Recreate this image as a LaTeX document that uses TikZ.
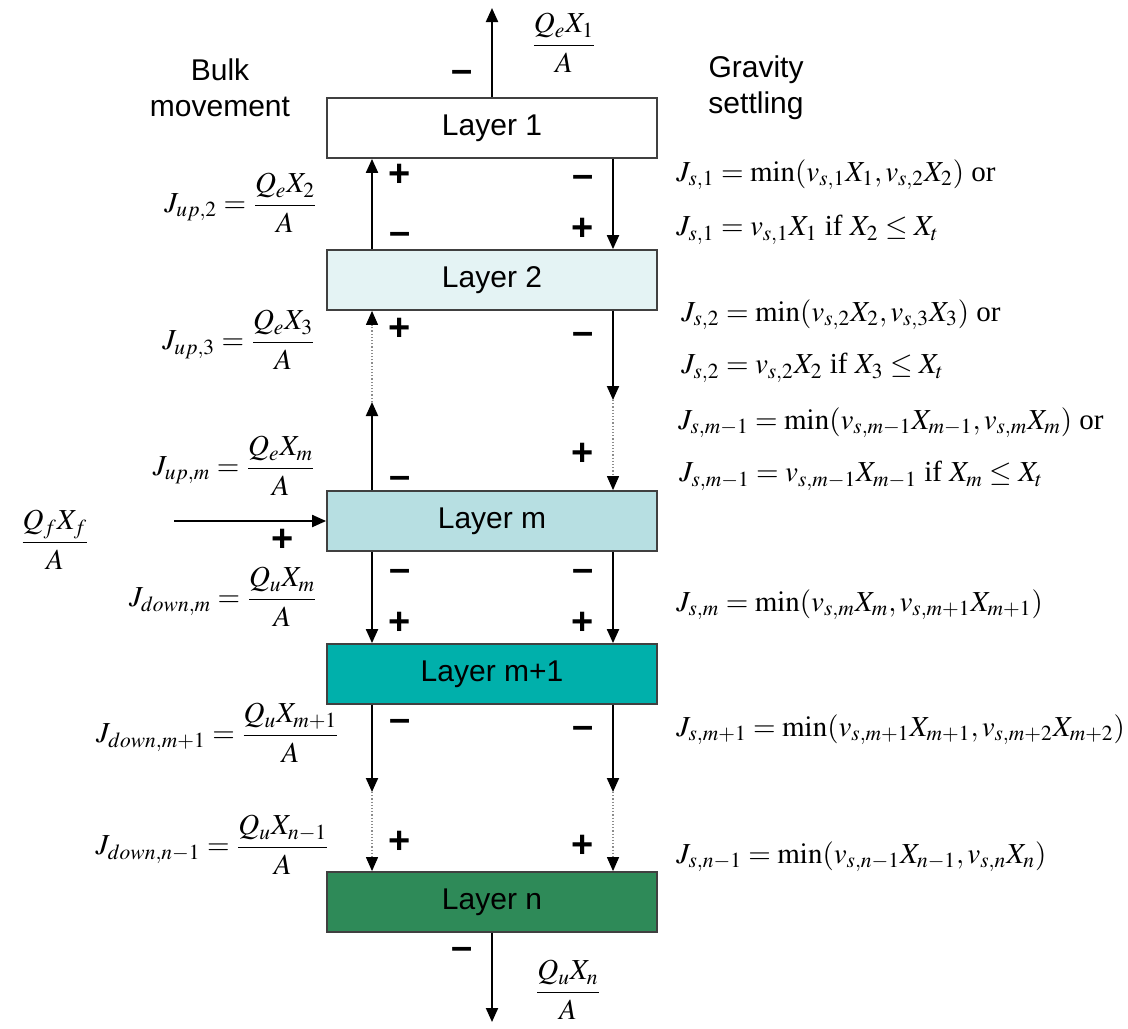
\documentclass[tikz,border=0pt]{standalone}
\usepackage{amsmath}
\usepackage{mathptmx}
\usepackage{fontspec}
\setmainfont{Liberation Serif}
\newfontfamily\arial{Liberation Sans}
\usetikzlibrary{positioning, arrows.meta}
\definecolor{layerTwo}{HTML}{E4F3F4}
\definecolor{layerM}{HTML}{B7DFE2}
\definecolor{layerMp}{HTML}{00B0AB}
\definecolor{layerN}{HTML}{2E8A58}

\begin{document}
\begin{tikzpicture}[x=0.5pt, y=-0.5pt,
    layer/.style={draw=black!75, line width=0.9pt, minimum width=165pt,
      minimum height=30pt, inner sep=0pt, font=\arial\fontsize{15}{18}\selectfont},
    flux/.style={line width=1pt, -{Triangle[length=7pt,width=6pt]}},
    gap/.style={draw=black!45, densely dotted, line width=0.6pt,
      -{Triangle[length=7pt,width=6pt,color=black]}},
    sign/.style={font=\arial\bfseries\fontsize{19}{22}\selectfont, inner sep=0pt},
    eq/.style={font=\fontsize{14.5}{17}\selectfont, inner sep=0pt},
    head/.style={font=\arial\fontsize{15}{18}\selectfont, align=center}]
  \useasboundingbox (0,0) rectangle (1128,1028);

  % layers
  \node[layer, fill=white] (l1) at (492,128) {Layer 1};
  \node[layer, fill=layerTwo] (l2) at (492,280) {Layer 2};
  \node[layer, fill=layerM] (lm) at (492,521) {Layer m};
  \node[layer, fill=layerMp] (lmp) at (492,674) {Layer m+1};
  \node[layer, fill=layerN] (ln) at (492,902) {Layer n};

  % columns and free ends
  \coordinate (cl) at (372,0);
  \coordinate (cr) at (613,0);
  \coordinate (top) at (492,8);
  \coordinate (bot) at (492,1022);
  \coordinate (upmid) at (372,402);
  \coordinate (dnmid) at (613,400);
  \coordinate (dlL) at (372,792);
  \coordinate (dlR) at (613,792);
  \coordinate (feed) at (174,521);

  \node[head] (bulk) at (220,88) {Bulk\\movement};
  \node[head] (grav) at (756,88) {Gravity\\settling};

  % fluxes
  \draw[flux] (l1) -- (top);
  \draw[flux] (ln) -- (bot);
  \draw[flux] (l2.north -| cl) -- (l1.south -| cl);
  \draw[flux] (l1.south -| cr) -- (l2.north -| cr);
  \draw[flux] (lm.north -| cl) -- (upmid);
  \draw[gap] (upmid) -- (l2.south -| cl);
  \draw[flux] (l2.south -| cr) -- (dnmid);
  \draw[gap] (dnmid) -- (lm.north -| cr);
  \draw[flux] (lm.south -| cl) -- (lmp.north -| cl);
  \draw[flux] (lm.south -| cr) -- (lmp.north -| cr);
  \draw[flux] (lmp.south -| cl) -- (dlL);
  \draw[gap] (dlL) -- (ln.north -| cl);
  \draw[flux] (lmp.south -| cr) -- (dlR);
  \draw[gap] (dlR) -- (ln.north -| cr);
  \draw[flux] (feed) -- (lm);

  % signs
  \foreach \px/\py [count=\i] in {400/175, 583/229, 400/329, 583/454, 400/623,
      583/623, 400/842, 583/846, 283/540}
    \node[sign] (plus\i) at (\px,\py) {+};
  \foreach \px/\py [count=\i] in {462/76, 583/181, 400/238, 583/338, 400/482,
      400/575, 583/575, 400/725, 583/732, 462/953}
    \node[sign] (minus\i) at (\px,\py) {\textendash};

  % outer fluxes
  \node[eq] (qtop) at (564,43) {$\displaystyle\frac{Q_eX_1}{A}$};
  \node[eq] (qbot) at (568,990) {$\displaystyle\frac{Q_uX_n}{A}$};
  \node[eq] (qfeed) at (55,540) {$\displaystyle\frac{Q_fX_f}{A}$};

  % bulk movement
  \node[eq, anchor=east] (jup2) at (318,203) {$\displaystyle J_{up,2}=\frac{Q_eX_2}{A}$};
  \node[eq, anchor=east] (jup3) at (316,340) {$\displaystyle J_{up,3}=\frac{Q_eX_3}{A}$};
  \node[eq, anchor=east] (jupm) at (316,466) {$\displaystyle J_{up,m}=\frac{Q_eX_m}{A}$};
  \node[eq, anchor=east] (jdnm) at (318,597) {$\displaystyle J_{down,m}=\frac{Q_uX_m}{A}$};
  \node[eq, anchor=east] (jdnmp) at (340,733) {$\displaystyle J_{down,m+1}=\frac{Q_uX_{m+1}}{A}$};
  \node[eq, anchor=east] (jdnn) at (330,845) {$\displaystyle J_{down,n-1}=\frac{Q_uX_{n-1}}{A}$};

  % gravity settling
  \node[eq, anchor=west] (js1a) at (676,175) {$J_{s,1}=\min(v_{s,1}X_1, v_{s,2}X_2)$ or};
  \node[eq, anchor=west] (js1b) at (676,230) {$J_{s,1}=v_{s,1}X_1$ if $X_2\le X_t$};
  \node[eq, anchor=west] (js2a) at (681,315) {$J_{s,2}=\min(v_{s,2}X_2, v_{s,3}X_3)$ or};
  \node[eq, anchor=west] (js2b) at (681,368) {$J_{s,2}=v_{s,2}X_2$ if $X_3\le X_t$};
  \node[eq, anchor=west] (jsma) at (678,423) {$J_{s,m-1}=\min(v_{s,m-1}X_{m-1}, v_{s,m}X_m)$ or};
  \node[eq, anchor=west] (jsmb) at (679,476) {$J_{s,m-1}=v_{s,m-1}X_{m-1}$ if $X_m\le X_t$};
  \node[eq, anchor=west] (jsm) at (676,605) {$J_{s,m}=\min(v_{s,m}X_m, v_{s,m+1}X_{m+1})$};
  \node[eq, anchor=west] (jsmp) at (676,730) {$J_{s,m+1}=\min(v_{s,m+1}X_{m+1}, v_{s,m+2}X_{m+2})$};
  \node[eq, anchor=west] (jsn) at (676,857) {$J_{s,n-1}=\min(v_{s,n-1}X_{n-1}, v_{s,n}X_n)$};
\end{tikzpicture}
\end{document}
